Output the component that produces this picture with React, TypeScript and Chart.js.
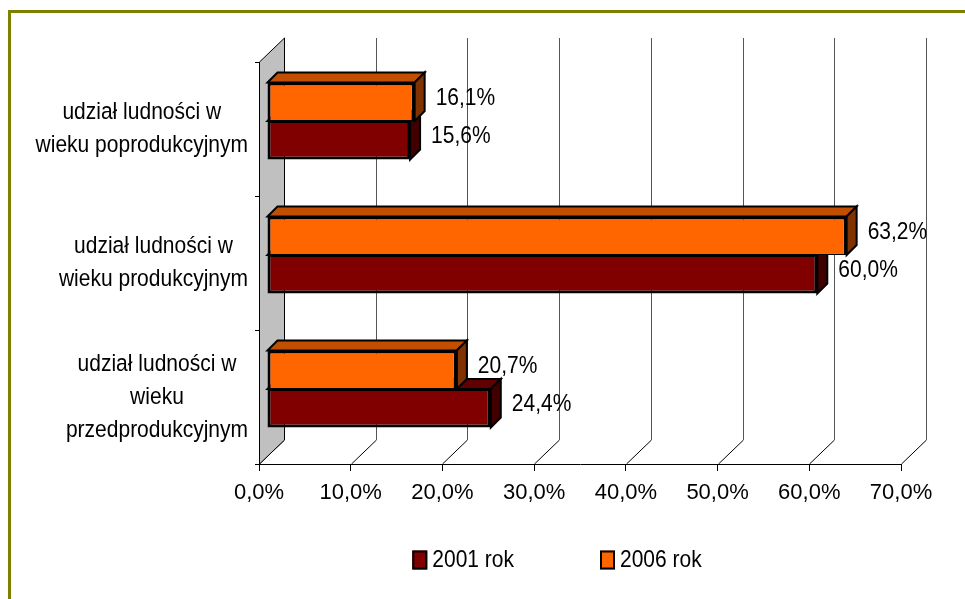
import React, { useEffect, useRef } from "react";
import { Chart, registerables } from "chart.js";

Chart.register(...registerables);

// ---- data ----
const categoryLabels: string[][] = [
  ["udział ludności w", "wieku poprodukcyjnym"],
  ["udział ludności w", "wieku produkcyjnym"],
  ["udział ludności w", "wieku", "przedprodukcyjnym"],
];
const seriesLabels = ["2001 rok", "2006 rok"];
const values2001 = [15.6, 60.0, 24.4];
const values2006 = [16.1, 63.2, 20.7];
const xTickValues = [0, 10, 20, 30, 40, 50, 60, 70];

// ---- styles ----
const FONT = '"Liberation Sans", Arial, Helvetica, sans-serif';
const FONT_SIZE = 21;
const TEXT_STRETCH = 1.18;
const fmt = (v: number) => Number(v).toFixed(1).replace(".", ",") + "%";

const WALL_DX = 25;
const WALL_DY = 24;
const BAR_SHIFT = 8;
const BAR_DEPTH = 10;

const faceColors: Record<string, { front: string; top: string; side: string }> = {
  "2001 rok": { front: "#800000", top: "#600000", side: "#400000" },
  "2006 rok": { front: "#FF6600", top: "#C24E00", side: "#803300" },
};

const drawText = (ctx: CanvasRenderingContext2D, t: string, x: number, y: number) => {
  ctx.save();
  ctx.translate(x, y);
  ctx.scale(1, TEXT_STRETCH);
  ctx.fillText(t, 0, 0);
  ctx.restore();
};

const threeDPlugin = {
  id: "threeD",
  beforeDatasetsDraw(chart: any) {
    const { ctx, chartArea: a, scales } = chart;
    const xs = scales.x;
    ctx.save();
    ctx.lineWidth = 1;
    for (const v of xTickValues) {
      const p = Math.round(xs.getPixelForValue(v)) + 0.5;
      ctx.beginPath();
      ctx.moveTo(p, a.bottom);
      ctx.lineTo(p + WALL_DX, a.bottom - WALL_DY);
      ctx.strokeStyle = "#000";
      ctx.stroke();
      ctx.beginPath();
      ctx.moveTo(p + WALL_DX, a.bottom - WALL_DY);
      ctx.lineTo(p + WALL_DX, a.top - WALL_DY);
      ctx.strokeStyle = "#555";
      ctx.stroke();
    }
    const l = Math.round(a.left) + 0.5;
    ctx.beginPath();
    ctx.moveTo(l, a.top);
    ctx.lineTo(l + WALL_DX, a.top - WALL_DY);
    ctx.lineTo(l + WALL_DX, a.bottom - WALL_DY);
    ctx.lineTo(l, a.bottom);
    ctx.closePath();
    ctx.fillStyle = "#c0c0c0";
    ctx.fill();
    ctx.strokeStyle = "#000";
    ctx.stroke();
    ctx.restore();
    ctx.save();
    ctx.translate(BAR_SHIFT, -BAR_SHIFT);
  },
  afterDatasetDraw(chart: any, args: any) {
    const { ctx } = chart;
    const ds = chart.data.datasets[args.index];
    const c = faceColors[ds.label];
    const D = BAR_DEPTH;
    const face = (pts: number[][], fill: string) => {
      ctx.beginPath();
      ctx.moveTo(pts[0][0], pts[0][1]);
      for (let i = 1; i < pts.length; i++) ctx.lineTo(pts[i][0], pts[i][1]);
      ctx.closePath();
      ctx.fillStyle = fill;
      ctx.fill();
      ctx.stroke();
    };
    args.meta.data.forEach((el: any) => {
      const { x, y, base, height } = el.getProps(["x", "y", "base", "height"], true);
      const left = Math.min(x, base);
      const right = Math.max(x, base);
      const top = y - height / 2;
      const bottom = y + height / 2;
      ctx.save();
      ctx.lineWidth = 2;
      ctx.strokeStyle = "#000";
      face([[left, top], [left + D, top - D], [right + D, top - D], [right, top]], c.top);
      face([[right, top], [right + D, top - D], [right + D, bottom - D], [right, bottom]], c.side);
      ctx.restore();
    });
  },
  afterDatasetsDraw(chart: any) {
    const { ctx } = chart;
    ctx.restore();
    ctx.save();
    ctx.font = `${FONT_SIZE}px ${FONT}`;
    ctx.fillStyle = "#000";
    ctx.textAlign = "left";
    ctx.textBaseline = "middle";
    chart.data.datasets.forEach((ds: any, di: number) => {
      const meta = chart.getDatasetMeta(di);
      meta.data.forEach((el: any, i: number) => {
        const { x, y } = el.getProps(["x", "y"], true);
        drawText(ctx, fmt(ds.data[i]), x + BAR_SHIFT + 21, y - BAR_SHIFT - 4);
      });
    });
    ctx.restore();
  },
  afterDraw(chart: any) {
    const { ctx, chartArea: a, scales } = chart;
    const ys = scales.y;
    ctx.save();
    ctx.font = `${FONT_SIZE}px ${FONT}`;
    ctx.fillStyle = "#000";
    ctx.textAlign = "center";
    ctx.textBaseline = "middle";
    const lh = 33;
    categoryLabels.forEach((lines, i) => {
      const cy = ys.getPixelForTick(i);
      const w = Math.max(...lines.map((t) => ctx.measureText(t).width));
      const cx = a.left - 11 - w / 2;
      lines.forEach((t, j) => {
        drawText(ctx, t, cx, cy + (j - (lines.length - 1) / 2) * lh);
      });
    });
    const items = [...chart.data.datasets].reverse();
    const boxW = 15, boxH = 19, gapText = 5, gapItem = 86;
    const widths = items.map((d: any) => boxW + gapText + ctx.measureText(d.label).width);
    const total = widths.reduce((s: number, w: number) => s + w, 0) + gapItem * (items.length - 1);
    const centerX = 557;
    const cy = 560;
    let x = centerX - total / 2;
    ctx.textAlign = "left";
    items.forEach((d: any, i: number) => {
      ctx.fillStyle = d.backgroundColor;
      ctx.fillRect(x, cy - boxH / 2, boxW, boxH);
      ctx.lineWidth = 2;
      ctx.strokeStyle = "#000";
      ctx.strokeRect(x + 1, cy - boxH / 2 + 1, boxW - 2, boxH - 2);
      ctx.fillStyle = "#000";
      drawText(ctx, d.label, x + boxW + gapText, cy);
      x += widths[i] + gapItem;
    });
    ctx.restore();
  },
};

export default function App() {
  const ref = useRef<HTMLCanvasElement | null>(null);

  useEffect(() => {
    if (!ref.current) return;
    const chart = new Chart(ref.current, {
      type: "bar",
      data: {
        labels: categoryLabels,
        datasets: [
          {
            label: seriesLabels[1],
            data: values2006,
            backgroundColor: faceColors[seriesLabels[1]].front,
            borderColor: "#000",
            borderWidth: { top: 3, left: 3, right: 3, bottom: 1 },
            borderSkipped: false,
            categoryPercentage: 0.575,
            barPercentage: 1,
            clip: false,
          },
          {
            label: seriesLabels[0],
            data: values2001,
            backgroundColor: faceColors[seriesLabels[0]].front,
            borderColor: "#000",
            borderWidth: { top: 2, left: 3, right: 3, bottom: 3 },
            borderSkipped: false,
            categoryPercentage: 0.575,
            barPercentage: 1,
            clip: false,
          },
        ],
      } as any,
      options: {
        indexAxis: "y",
        animation: false,
        responsive: false,
        devicePixelRatio: 1,
        events: [],
        layout: { padding: { top: 62, right: 64, left: 0, bottom: 0 } },
        plugins: { legend: { display: false }, tooltip: { enabled: false } },
        scales: {
          x: {
            type: "linear",
            position: "bottom",
            min: 0,
            max: 70,
            afterFit: (s: any) => {
              s.height = 135;
            },
            ticks: {
              stepSize: 10,
              padding: 9,
              color: "#000",
              maxRotation: 0,
              autoSkip: false,
              font: { family: FONT, size: FONT_SIZE + 1 },
              callback: (v: any) => fmt(v),
            },
            grid: { drawOnChartArea: false, drawTicks: true, tickLength: 7, color: "#000" },
            border: { display: true, color: "#000", width: 1 },
          },
          y: {
            type: "category",
            offset: true,
            afterFit: (s: any) => {
              s.width = 259;
            },
            ticks: { display: false },
            grid: { drawOnChartArea: false, drawTicks: true, tickLength: 4, offset: true, color: "#000" },
            border: { display: true, color: "#000", width: 1 },
          },
        },
      } as any,
      plugins: [threeDPlugin],
    });
    return () => chart.destroy();
  }, []);

  return (
    <div
      style={{
        position: "fixed",
        left: 0,
        top: 0,
        width: 965,
        height: 599,
        overflow: "hidden",
        background: "#fff",
      }}
    >
      <canvas ref={ref} width={965} height={599} style={{ display: "block", width: 965, height: 599 }} />
      <div
        style={{
          position: "absolute",
          left: 8,
          top: 10,
          width: 2000,
          height: 2000,
          border: "3px solid #808000",
          pointerEvents: "none",
        }}
      />
    </div>
  );
}
